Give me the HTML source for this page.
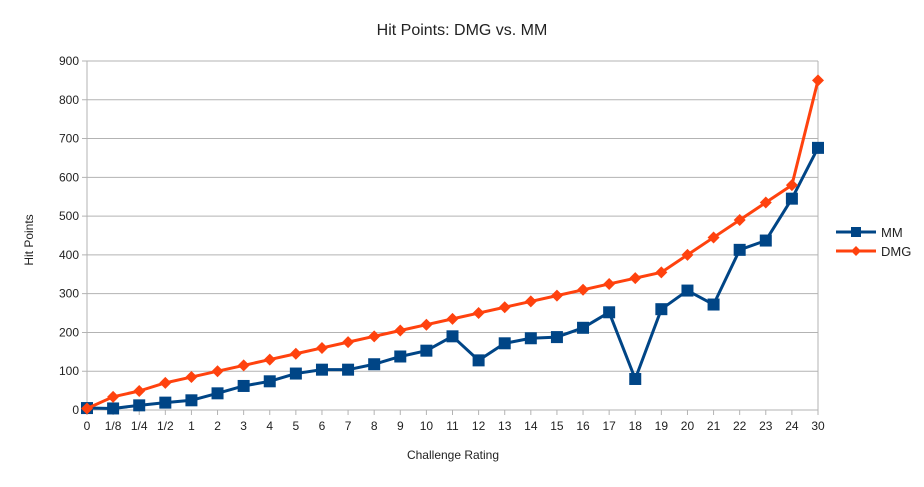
<!DOCTYPE html>
<html><head><meta charset="utf-8"><style>
body{margin:0;background:#fff;font-family:"Liberation Sans",sans-serif;}
</style></head><body>
<svg id="chart" width="924" height="482" xmlns="http://www.w3.org/2000/svg" font-family="Liberation Sans, sans-serif">
<rect width="924" height="482" fill="#fff"/>
<text x="462" y="35" text-anchor="middle" font-size="16" fill="#222">Hit Points: DMG vs. MM</text>
<text transform="translate(33,240) rotate(-90)" text-anchor="middle" font-size="12" fill="#222">Hit Points</text>
<text x="453" y="459" text-anchor="middle" font-size="12" fill="#222">Challenge Rating</text>
<g id="grid"></g><g id="axes"></g><g id="series"></g>
<g>
<g>
<line x1="836" y1="232" x2="876" y2="232" stroke="#004586" stroke-width="3"/>
<rect x="851" y="227" width="10" height="10" fill="#004586"/>
<text x="881" y="237" font-size="13" fill="#222">MM</text></g>
<g>
<line x1="836" y1="251" x2="876" y2="251" stroke="#ff420e" stroke-width="3"/>
<polygon points="856,246 861,251 856,256 851,251" fill="#ff420e"/>
<text x="881" y="256" font-size="13" fill="#222">DMG</text></g>
</g>
</svg>
<script>
const categories=["0","1/8","1/4","1/2","1","2","3","4","5","6","7","8","9","10","11","12","13","14","15","16","17","18","19","20","21","22","23","24","30"];
const mmValues=[5,4,12,19,25,43,62,74,94,104,104,118,138,153,190,128,172,185,188,212,252,80,260,308,272,413,437,545,676];
const dmgValues=[4,34,49,70,85,100,115,130,145,160,175,190,205,220,235,250,265,280,295,310,325,340,355,400,445,490,535,580,850];
const yTicks=[0,100,200,300,400,500,600,700,800,900];
const NS="http://www.w3.org/2000/svg";
const L=87,R=818,T=61,B=410,YMAX=900;
const xs=i=>L+i*(R-L)/(categories.length-1);
const ys=v=>B-v*(B-T)/YMAX;
function mk(tag,attrs,parent){const e=document.createElementNS(NS,tag);for(const k in attrs)e.setAttribute(k,attrs[k]);parent.appendChild(e);return e;}
const grid=document.getElementById('grid'),axes=document.getElementById('axes'),series=document.getElementById('series');
yTicks.forEach(t=>{
 const g=mk('line',{x1:L-5,x2:R,y1:ys(t),y2:ys(t),stroke:'#b3b3b3','stroke-width':1},grid);
 
 
 const tx=mk('text',{x:L-8,y:ys(t)+4,'text-anchor':'end','font-size':12,fill:'#222'},axes);
 tx.textContent=t;
 
 
});
mk('line',{x1:L,x2:L,y1:T,y2:B,stroke:'#b3b3b3'},axes);
mk('line',{x1:R,x2:R,y1:T,y2:B,stroke:'#b3b3b3'},axes);
categories.forEach((c,i)=>{
 mk('line',{x1:xs(i),x2:xs(i),y1:B,y2:B+5,stroke:'#b3b3b3'},axes);
 const tx=mk('text',{x:xs(i),y:B+20,'text-anchor':'middle','font-size':12,fill:'#222'},axes);
 tx.textContent=c;
 
 
});
function draw(vals,color,name,marker){
 const pl=mk('polyline',{points:vals.map((v,i)=>xs(i)+','+ys(v)).join(' '),fill:'none',stroke:color,'stroke-width':3,'stroke-linejoin':'round'},series);
 
 
 vals.forEach((v,i)=>{
  const x=xs(i),y=ys(v);let m;
  if(marker==='sq')m=mk('rect',{x:x-6,y:y-6,width:12,height:12,fill:color},series);
  else m=mk('polygon',{points:`${x},${y-6} ${x+6},${y} ${x},${y+6} ${x-6},${y}`,fill:color},series);
  
  
 });
}
draw(mmValues,'#004586','mm','sq');
draw(dmgValues,'#ff420e','dmg','dia');
</script>
</body></html>
